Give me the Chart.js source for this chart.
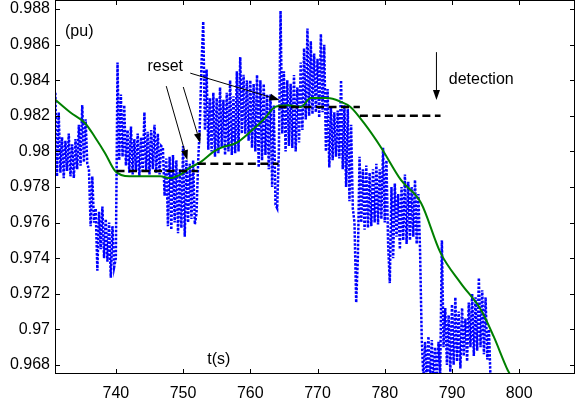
<!DOCTYPE html>
<html>
<head>
<meta charset="utf-8">
<script src="https://cdn.jsdelivr.net/npm/chart.js@4.4.0/dist/chart.umd.min.js"></script>
<style>
html, body { margin: 0; padding: 0; background: #fff; }
</style>
</head>
<body>
<canvas id="myChart" width="576" height="404"></canvas>
<script>
// tick labels
var xTicks = [740, 750, 760, 770, 780, 790, 800];
var yTicks = [0.968, 0.970, 0.972, 0.974, 0.976, 0.978, 0.980, 0.982, 0.984, 0.986, 0.988];
var yTickLabels = ['0.968', '0.97', '0.972', '0.974', '0.976', '0.978', '0.98', '0.982', '0.984', '0.986', '0.988'];

// measured voltage (blue dotted), sampled every 0.25 s from t = 731 s
var blueStart = 731;
var blueStep = 0.25;
var blueV = [
    0.9833, 0.9786, 0.9822, 0.9788,  // 731
    0.9808, 0.9785, 0.9806, 0.9789,  // 732
    0.9810, 0.9786, 0.9804, 0.9785,  // 733
    0.9807, 0.9790, 0.9815, 0.9792,  // 734
    0.9826, 0.9794, 0.9818, 0.9793,  // 735
    0.9790, 0.9758, 0.9786, 0.9760,  // 736
    0.9768, 0.9733, 0.9766, 0.9745,  // 737
    0.9769, 0.9740, 0.9762, 0.9738,  // 738
    0.9760, 0.9729, 0.9758, 0.9735,  // 739
    0.9740, 0.9850, 0.9795, 0.9832,  // 740
    0.9797, 0.9826, 0.9792, 0.9812,  // 741
    0.9788, 0.9814, 0.9787, 0.9807,  // 742
    0.9789, 0.9810, 0.9786, 0.9808,  // 743
    0.9788, 0.9822, 0.9789, 0.9811,  // 744
    0.9787, 0.9812, 0.9790, 0.9815,  // 745
    0.9788, 0.9810, 0.9787, 0.9803,  // 746
    0.9802, 0.9775, 0.9796, 0.9758,  // 747
    0.9797, 0.9756, 0.9798, 0.9760,  // 748
    0.9795, 0.9754, 0.9790, 0.9757,  // 749
    0.9803, 0.9752, 0.9795, 0.9760,  // 750
    0.9793, 0.9762, 0.9795, 0.9759,  // 751
    0.9765, 0.9795, 0.9815, 0.9850,  // 752
    0.9873, 0.9812, 0.9846, 0.9801,  // 753
    0.9830, 0.9800, 0.9833, 0.9797,  // 754
    0.9830, 0.9799, 0.9836, 0.9802,  // 755
    0.9829, 0.9798, 0.9833, 0.9800,  // 756
    0.9840, 0.9798, 0.9831, 0.9799,  // 757
    0.9845, 0.9800, 0.9853, 0.9810,  // 758
    0.9843, 0.9810, 0.9840, 0.9806,  // 759
    0.9840, 0.9802, 0.9838, 0.9800,  // 760
    0.9843, 0.9791, 0.9840, 0.9795,  // 761
    0.9838, 0.9798, 0.9832, 0.9790,  // 762
    0.9832, 0.9780, 0.9826, 0.9770,  // 763
    0.9768, 0.9800, 0.9879, 0.9810,  // 764
    0.9845, 0.9800, 0.9840, 0.9803,  // 765
    0.9838, 0.9802, 0.9843, 0.9800,  // 766
    0.9836, 0.9805, 0.9850, 0.9812,  // 767
    0.9858, 0.9818, 0.9869, 0.9820,  // 768
    0.9862, 0.9821, 0.9855, 0.9822,  // 769
    0.9852, 0.9819, 0.9866, 0.9822,  // 770
    0.9860, 0.9800, 0.9835, 0.9791,  // 771
    0.9825, 0.9795, 0.9822, 0.9797,  // 772
    0.9823, 0.9796, 0.9840, 0.9790,  // 773
    0.9826, 0.9780, 0.9824, 0.9772,  // 774
    0.9815, 0.9768, 0.9760, 0.9715,  // 775
    0.9740, 0.9797, 0.9760, 0.9790,  // 776
    0.9756, 0.9792, 0.9757, 0.9788,  // 777
    0.9758, 0.9790, 0.9760, 0.9793,  // 778
    0.9759, 0.9790, 0.9762, 0.9802,  // 779
    0.9760, 0.9795, 0.9748, 0.9726,  // 780
    0.9780, 0.9740, 0.9782, 0.9752,  // 781
    0.9776, 0.9745, 0.9780, 0.9750,  // 782
    0.9787, 0.9748, 0.9783, 0.9750,  // 783
    0.9780, 0.9752, 0.9784, 0.9748,  // 784
    0.9776, 0.9745, 0.9695, 0.9672,  // 785
    0.9693, 0.9670, 0.9696, 0.9672,  // 786
    0.9694, 0.9670, 0.9690, 0.9671,  // 787
    0.9693, 0.9675, 0.9750, 0.9690,  // 788
    0.9712, 0.9680, 0.9708, 0.9676,  // 789
    0.9714, 0.9680, 0.9718, 0.9682,  // 790
    0.9710, 0.9678, 0.9712, 0.9685,  // 791
    0.9706, 0.9682, 0.9715, 0.9690,  // 792
    0.9720, 0.9685, 0.9718, 0.9688,  // 793
    0.9729, 0.9690, 0.9722, 0.9686,  // 794
    0.9718, 0.9683, 0.9700, 0.9670,  // 795
    0.9668
];

// filtered voltage (green)
var greenT = [731, 733.2, 735.4, 736.9, 738.4, 739.9, 742, 744.4, 746.6, 748.1, 749.6, 751.1, 752.6, 754.6,
    755.6, 758, 760, 762, 763.7, 765.5, 767.5, 769, 771.5, 773.4, 774.9, 776.9, 779.4, 782.4, 785.4,
    788.3, 791.3, 794.3, 796.2, 798.3, 798.6];
var greenV = [0.9829, 0.9822, 0.9816, 0.9808, 0.9799, 0.9789, 0.9786, 0.9786, 0.9786, 0.9785, 0.9787, 0.9791, 0.9794, 0.9800,
    0.9802, 0.9805, 0.9811, 0.9818, 0.9825, 0.9826, 0.9825, 0.9830, 0.9830, 0.9828, 0.9825, 0.9816, 0.98025, 0.9784, 0.9771,
    0.9743, 0.9726, 0.9711, 0.9696, 0.9677, 0.9675];

// reference level held between resets (black dashed)
var resetT = [740.1, 752.2, 764.2, 776.3, 788.3];
var resetV = [0.9789, 0.9793, 0.9825, 0.9820];

// annotations, in data units
var arrows = [
    { from: [747.5, 0.98367], to: [750.63, 0.97952] },
    { from: [750.03, 0.98362], to: [752.56, 0.98047] },
    { from: [751.07, 0.9844], to: [764.35, 0.98289] },
    { from: [787.69, 0.98558], to: [787.69, 0.98289] }
];
var notes = [
    { text: 'reset', x: 747.35, y: 0.98474, align: 'center' },
    { text: 'detection', x: 789.52, y: 0.98401, align: 'left' },
    { text: '(pu)', x: 732.44, y: 0.98671, align: 'left' },
    { text: 't(s)', x: 753.6, y: 0.96828, align: 'left' }
];

var blueData = blueV.map(function(v, i) { return { x: blueStart + i * blueStep, y: v }; });
var greenData = greenT.map(function(t, i) { return { x: t, y: greenV[i] }; });
var resetData = [];
for (var i = 0; i < resetV.length; i++) {
    resetData.push({ x: resetT[i], y: resetV[i] });
    resetData.push({ x: resetT[i + 1], y: resetV[i] });
    if (i < resetV.length - 1) resetData.push({ x: resetT[i + 1], y: null });
}

var FONT = 'Liberation Sans, Arial, sans-serif';

function drawArrow(c, x1, y1, x2, y2) {
    var ang = Math.atan2(y2 - y1, x2 - x1);
    var len = 10, hw = 3.5;
    var bx = x2 - len * Math.cos(ang), by = y2 - len * Math.sin(ang);
    c.beginPath();
    c.moveTo(x1, y1);
    c.lineTo(bx, by);
    c.stroke();
    c.beginPath();
    c.moveTo(x2, y2);
    c.lineTo(bx + hw * Math.sin(ang), by - hw * Math.cos(ang));
    c.lineTo(bx - hw * Math.sin(ang), by + hw * Math.cos(ang));
    c.closePath();
    c.fill();
}

var framePlugin = {
    id: 'frame',
    afterDraw: function(chart) {
        var c = chart.ctx, a = chart.chartArea;
        var xs = chart.scales.x, ys = chart.scales.y;
        c.save();
        c.strokeStyle = '#000';
        c.fillStyle = '#000';
        c.lineWidth = 1;
        c.strokeRect(a.left + 0.5, a.top + 0.5, a.right - a.left - 1, a.bottom - a.top - 1);
        c.beginPath();
        yTicks.forEach(function(v) {
            var y = Math.round(ys.getPixelForValue(v)) + 0.5;
            c.moveTo(a.left, y); c.lineTo(a.left + 5, y);
            c.moveTo(a.right, y); c.lineTo(a.right - 5, y);
        });
        xTicks.forEach(function(v) {
            var x = Math.round(xs.getPixelForValue(v)) + 0.5;
            c.moveTo(x, a.bottom); c.lineTo(x, a.bottom - 5);
            c.moveTo(x, a.top); c.lineTo(x, a.top + 5);
        });
        c.stroke();
        arrows.forEach(function(ar) {
            drawArrow(c, xs.getPixelForValue(ar.from[0]), ys.getPixelForValue(ar.from[1]),
                xs.getPixelForValue(ar.to[0]), ys.getPixelForValue(ar.to[1]));
        });
        c.font = '16px ' + FONT;
        c.textBaseline = 'middle';
        notes.forEach(function(n) {
            c.textAlign = n.align;
            c.fillText(n.text, xs.getPixelForValue(n.x), ys.getPixelForValue(n.y));
        });
        c.restore();
    }
};

var ctx = document.getElementById('myChart');
var chart = new Chart(ctx, {
    type: 'line',
    data: {
        datasets: [
            {
                data: resetData,
                borderColor: '#000',
                borderWidth: 2.5,
                borderDash: [8, 4.5],
                pointRadius: 0,
                spanGaps: false,
                order: 0
            },
            {
                data: greenData,
                borderColor: '#008000',
                borderWidth: 2,
                cubicInterpolationMode: 'monotone',
                pointRadius: 0,
                order: 1
            },
            {
                data: blueData,
                borderColor: '#0000ff',
                borderWidth: 2.5,
                borderDash: [2.5, 1.5],
                borderCapStyle: 'butt',
                pointRadius: 0,
                order: 2
            }
        ]
    },
    options: {
        responsive: false,
        animation: false,
        events: [],
        layout: { padding: { top: 0, right: 1, bottom: 0, left: 0 } },
        plugins: {
            legend: { display: false },
            tooltip: { enabled: false }
        },
        scales: {
            x: {
                type: 'linear',
                min: 730.95,
                max: 808.3,
                grid: { display: false, drawTicks: false },
                border: { display: false },
                ticks: {
                    autoSkip: false,
                    maxRotation: 0,
                    minRotation: 0,
                    padding: 10,
                    color: '#000',
                    font: { family: FONT, size: 16 }
                },
                afterBuildTicks: function(scale) {
                    scale.ticks = xTicks.map(function(v) { return { value: v }; });
                },
                afterFit: function(scale) {
                    scale.height = 30;
                    scale.paddingLeft = 0;
                    scale.paddingRight = 0;
                }
            },
            y: {
                type: 'linear',
                min: 0.96749,
                max: 0.98851,
                grid: { display: false, drawTicks: false },
                border: { display: false },
                ticks: {
                    autoSkip: false,
                    padding: 5,
                    color: '#000',
                    font: { family: FONT, size: 16 },
                    callback: function(value) {
                        var k = yTicks.findIndex(function(t) { return Math.abs(t - value) < 1e-7; });
                        return k >= 0 ? yTickLabels[k] : '';
                    }
                },
                afterBuildTicks: function(scale) {
                    scale.ticks = yTicks.map(function(v) { return { value: v }; });
                },
                afterFit: function(scale) {
                    scale.width = 55;
                    scale.paddingTop = 0;
                    scale.paddingBottom = 0;
                }
            }
        }
    },
    plugins: [framePlugin]
});
</script>
</body>
</html>
